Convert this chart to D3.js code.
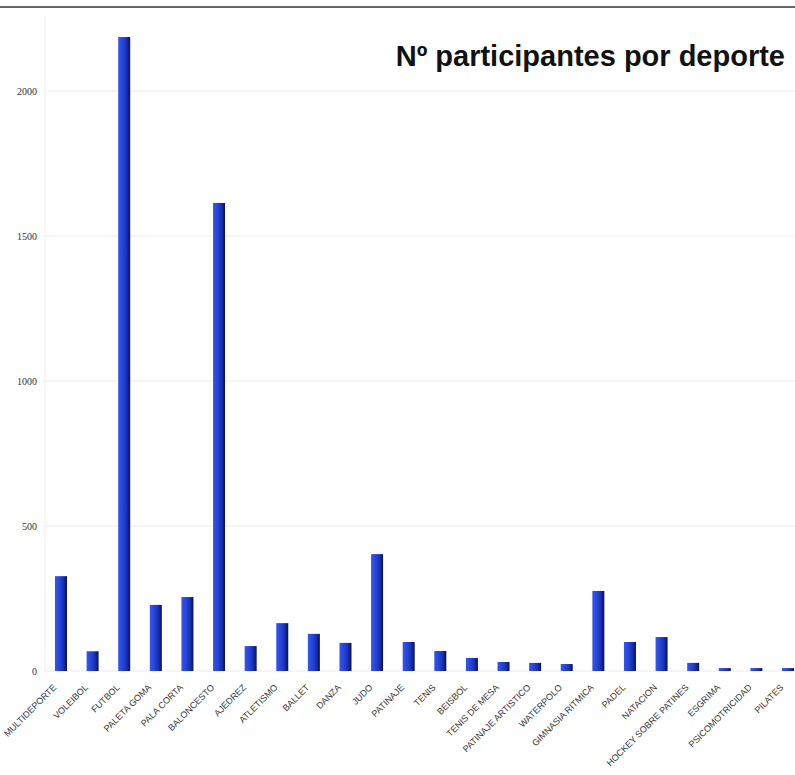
<!DOCTYPE html>
<html>
<head>
<meta charset="utf-8">
<script src="https://cdn.jsdelivr.net/npm/d3@7"></script>
<style>
html,body{margin:0;padding:0;background:#fff;}
svg{display:block;}
</style>
</head>
<body>
<div id="chart"></div>
<script>
const categories = ["MULTIDEPORTE","VOLEIBOL","FUTBOL","PALETA GOMA","PALA CORTA","BALONCESTO","AJEDREZ","ATLETISMO","BALLET","DANZA","JUDO","PATINAJE","TENIS","BEISBOL","TENIS DE MESA","PATINAJE ARTISTICO","WATERPOLO","GIMNASIA RITMICA","PADEL","NATACION","HOCKEY SOBRE PATINES","ESGRIMA","PSICOMOTRICIDAD","PILATES"];
const participants = [327,68,2186,228,255,1614,86,165,128,97,403,100,69,45,31,28,24,276,100,117,28,10,10,10];
const yTicks = [0,500,1000,1500,2000];
const title = "Nº participantes por deporte";

const W = 795, H = 775;
const svg = d3.select("#chart").append("svg").attr("width", W).attr("height", H);

const defs = svg.append("defs");
const grad = defs.append("linearGradient").attr("id","barGrad").attr("x1","0").attr("x2","1").attr("y1","0").attr("y2","0");
[["0%","#3557ee"],["40%","#2443da"],["70%","#1a30b0"],["100%","#08124a"]].forEach(s=>grad.append("stop").attr("offset",s[0]).attr("stop-color",s[1]));

const x = d3.scalePoint().domain(categories).range([61, 788]);
const y = d3.scaleLinear().domain([0, 2000]).range([671, 91]);

// top border
svg.append("line").attr("x1",0).attr("x2",W).attr("y1",7).attr("y2",7).attr("stroke","#333").attr("stroke-width",1.5);

// vertical axis line
svg.append("line").attr("x1",45).attr("x2",45).attr("y1",15).attr("y2",671).attr("stroke","#eeeeee").attr("stroke-width",1);

// gridlines + y labels
const yAxis = svg.append("g").attr("class","y");
yTicks.forEach(t=>{
  yAxis.append("line").attr("x1",45).attr("x2",W).attr("y1",y(t)).attr("y2",y(t)).attr("stroke","#ececec").attr("stroke-width",1);
  yAxis.append("text").attr("x",37).attr("y",y(t)).attr("dy","0.35em").attr("text-anchor","end")
    .attr("font-family","'Liberation Serif','DejaVu Serif',serif").attr("font-size",10).attr("fill","#333").text(t);
});

// bars
const bw = 12;
svg.append("g").selectAll("rect").data(categories).join("rect")
  .attr("x", d=>x(d)-bw/2)
  .attr("y", (d,i)=>y(participants[i]))
  .attr("width", bw)
  .attr("height", (d,i)=>y(0)-y(participants[i]))
  .attr("fill","url(#barGrad)");

// x labels
svg.append("g").selectAll("text").data(categories).join("text")
  .attr("transform", d=>`translate(${x(d)-4},${688}) rotate(-45)`)
  .attr("text-anchor","end")
  .attr("font-family","'Liberation Sans',Arial,sans-serif")
  .attr("font-size",9)
  .attr("fill","#333")
  .text(d=>d);

// title
svg.append("text").attr("x",785).attr("y",66).attr("text-anchor","end")
  .attr("font-family","'Liberation Sans',Arial,sans-serif").attr("font-weight","bold")
  .attr("font-size",29).attr("fill","#111").text(title);
</script>
</body>
</html>
